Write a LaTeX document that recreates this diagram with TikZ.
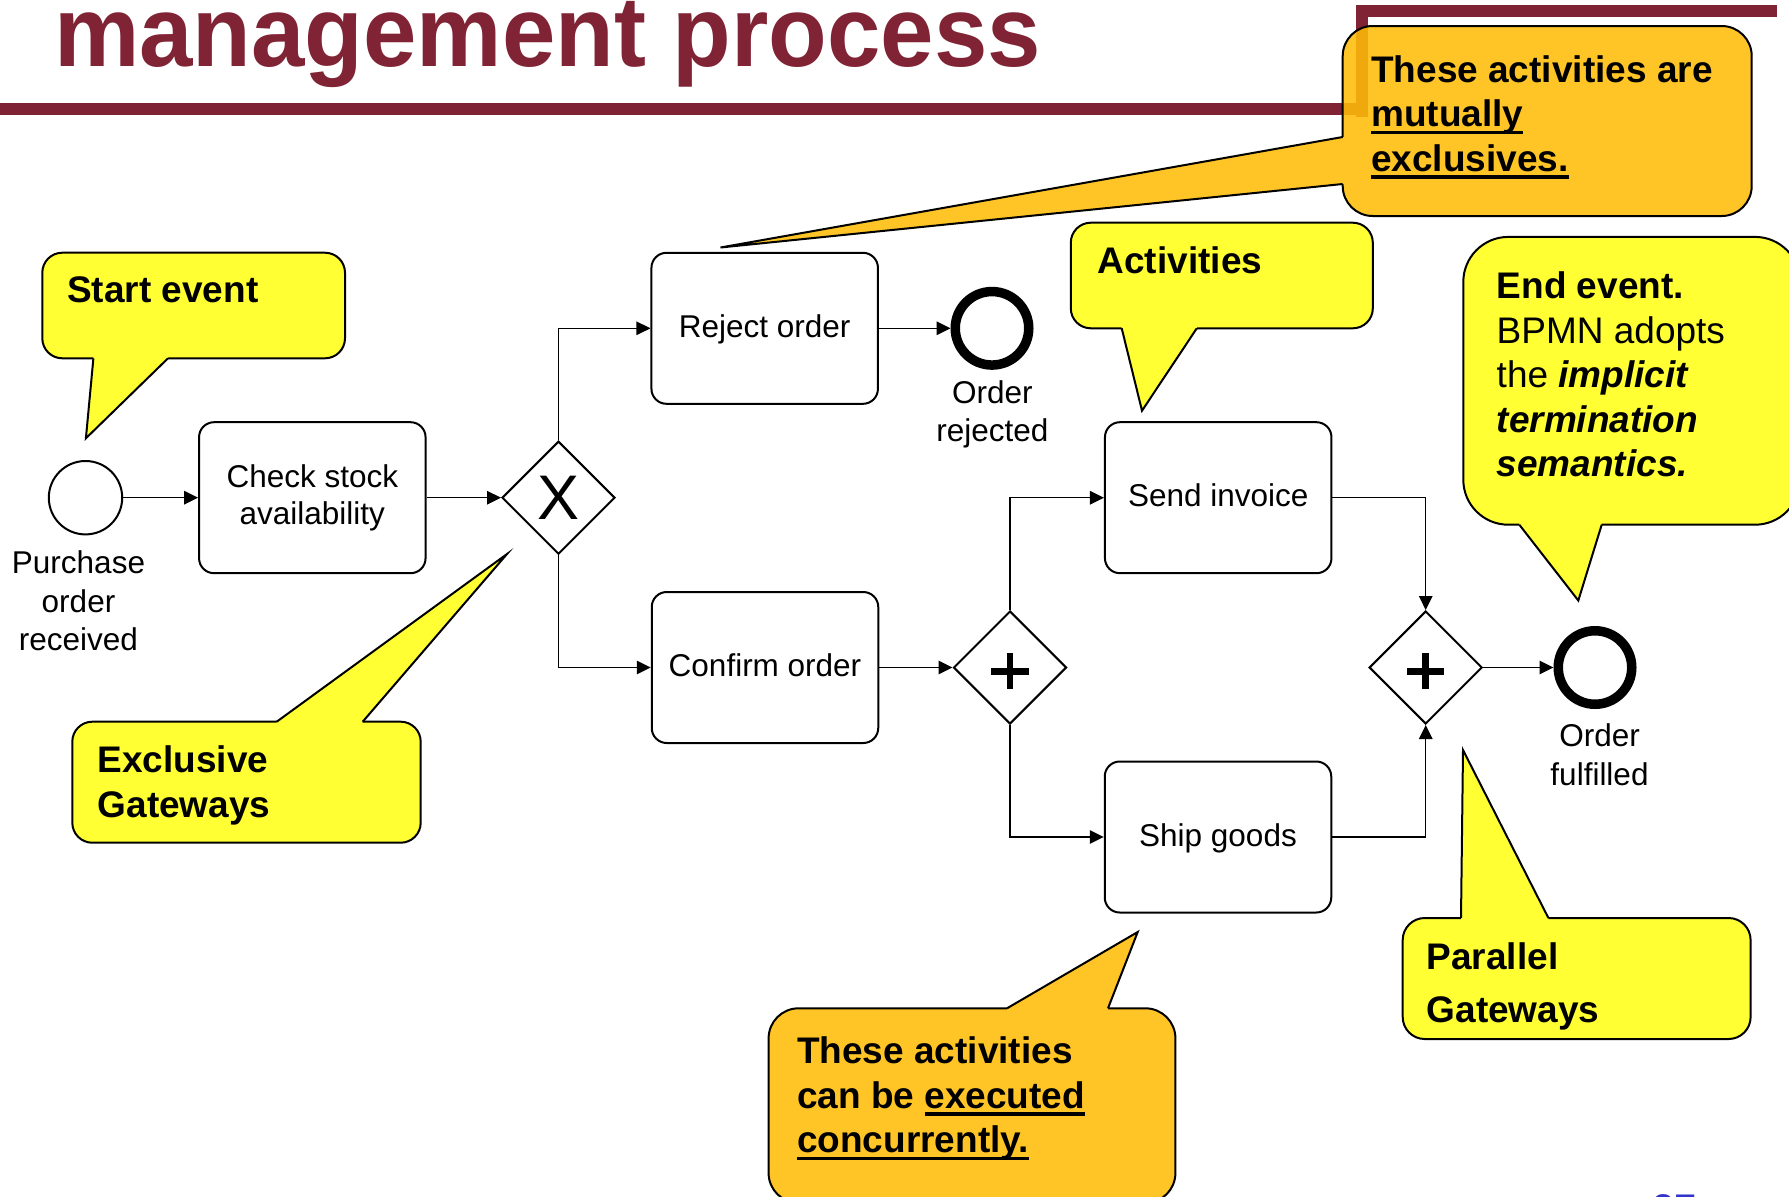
\documentclass[tikz,border=0pt]{standalone}
\usepackage{fontspec}
\setmainfont{Liberation Sans}
\usetikzlibrary{shapes.geometric,arrows.meta,calc}
\definecolor{maroon}{RGB}{128,35,52}
\definecolor{cyellow}{RGB}{255,255,51}
\definecolor{corange}{RGB}{255,196,37}
\definecolor{corangeT}{RGB}{255,188,7}
\definecolor{pnblue}{RGB}{51,51,204}
\newsavebox\ulbox
\newcommand\myul[1]{\sbox\ulbox{#1}\rlap{\rule[-7.6bp]{\wd\ulbox}{3.8bp}}\usebox\ulbox}
\tikzset{
  task/.style={draw, line width=2bp, rounded corners=15bp, minimum width=226.5bp, minimum height=151bp, inner sep=0pt, font=\fontsize{31.5bp}{37.5bp}\selectfont},
  taskone/.style={task, text height=24bp, text depth=6bp},
  gw/.style={draw, diamond, line width=2bp, minimum width=113bp, minimum height=113bp, inner sep=0pt},
  startev/.style={draw, circle, line width=2bp, minimum size=73.4bp, inner sep=0pt},
  endev/.style={draw, circle, line width=9.5bp, minimum size=73.5bp, inner sep=0pt},
  flow/.style={line width=1.4bp, -{Triangle[length=14bp,width=13.5bp]}},
  lbl/.style={font=\fontsize{31.5bp}{38.3bp}\selectfont, align=center, inner sep=0pt, anchor=north},
  ctext/.style={font=\bfseries\fontsize{37bp}{44.5bp}\selectfont, align=left, inner sep=0pt, anchor=north west},
  cbox/.style={draw, line width=2bp},
  cside/.style={line width=2bp},
  plusbar/.style={line width=6.5bp},
}
\begin{document}
\begin{tikzpicture}[x=1bp, y=-1bp]
\useasboundingbox (0,0) rectangle (1789,1196);

% title and frame
\node[anchor=base west, inner sep=0pt, text=maroon, font=\bfseries\fontsize{96bp}{96bp}\selectfont] (title) at (54,66.7) {\scalebox{1}[1.04]{management process}};
\fill[maroon] (0,102.7) rectangle (1368.3,115);
\fill[maroon] (1355.7,4.7) rectangle (1368.3,116.7);
\fill[maroon] (1355.7,4.7) rectangle (1777,17.3);

% callout: mutually exclusives (orange, top)
\draw[cbox, fill=corangeT, fill opacity=0.88, rounded corners=30bp] (1342.7,26) rectangle (1751.7,216);
\fill[corange] (1347,137) -- (1342.7,137) -- (720.5,247.5) -- (1342.7,184) -- (1347,184) -- cycle;
\draw[cside] (1342.7,137) -- (720.5,247.5) -- (1342.7,184);
\node[ctext] (cmutual) at (1371,55.2) {These activities are\\\myul{mutually}\\\myul{exclusives.}};

% callout: start event
\draw[cbox, fill=cyellow, rounded corners=20bp] (42.3,252.7) rectangle (345,358.3);
\fill[cyellow] (93.4,354) -- (93.4,358.3) -- (85.9,438.3) -- (168,358.3) -- (168,354) -- cycle;
\draw[cside] (93.4,358.3) -- (85.9,438.3) -- (168,358.3);
\node[ctext] (cstart) at (67,276.8) {Start event};

% callout: exclusive gateways
\draw[cbox, fill=cyellow, rounded corners=20bp] (72.3,721.7) rectangle (420.7,842.7);
\fill[cyellow] (276.7,726) -- (276.7,721.7) -- (507,554) -- (362.7,721.7) -- (362.7,726) -- cycle;
\draw[cside] (276.7,721.7) -- (507,554) -- (362.7,721.7);
\node[ctext] (cexcl) at (97.5,745.5) {Exclusive\\Gateways};

% callout: activities
\draw[cbox, fill=cyellow, rounded corners=20bp] (1070.8,222.7) rectangle (1372.8,328.3);
\fill[cyellow] (1121.7,324) -- (1121.7,328.3) -- (1142,410.7) -- (1196.8,328.3) -- (1196.8,324) -- cycle;
\draw[cside] (1121.7,328.3) -- (1142,410.7) -- (1196.8,328.3);
\node[ctext] (cact) at (1097.5,246.8) {Activities};

% callout: end event
\draw[cbox, fill=cyellow, rounded corners=45bp] (1463.3,236.9) rectangle (1800,524.7);
\fill[cyellow] (1519.3,520) -- (1519.3,524.7) -- (1578.3,600.5) -- (1601.7,524.7) -- (1601.7,520) -- cycle;
\draw[cside] (1519.3,524.7) -- (1578.3,600.5) -- (1601.7,524.7);
\node[ctext] (cend) at (1496.5,271.5) {End event.\\{\mdseries BPMN adopts}\\{\mdseries the} {\itshape implicit}\\{\itshape termination}\\{\itshape semantics.}};

% callout: parallel gateways
\draw[cbox, fill=cyellow, rounded corners=22bp] (1402.7,918) rectangle (1750.6,1039);
\fill[cyellow] (1461,922) -- (1461,918) -- (1463,750) -- (1548.4,918) -- (1548.4,922) -- cycle;
\draw[cside] (1461,918) -- (1463,750) -- (1548.4,918);
\node[ctext, font=\bfseries\fontsize{37bp}{53bp}\selectfont] (cpar) at (1426.5,942.8) {Parallel\\Gateways};

% callout: concurrently (orange, bottom)
\draw[cbox, fill=corange, rounded corners=30bp] (768.6,1008.3) rectangle (1175.4,1203);
\fill[corange] (1007,1012.5) -- (1007,1008.3) -- (1137.7,932) -- (1108,1008.3) -- (1108,1012.5) -- cycle;
\draw[cside] (1007,1008.3) -- (1137.7,932) -- (1108,1008.3);
\node[ctext] (cconc) at (797,1036.8) {These activities\\can be \myul{executed}\\\myul{concurrently.}};

% page number (cut off)
\node[anchor=base west, inner sep=0pt, text=pnblue, font=\fontsize{40bp}{40bp}\selectfont] (pagenum) at (1652,1222) {37};

% process
\node[startev] (start) at (85.5,497.7) {};
\node[lbl] (startlbl) at (78.5,550.7) {Purchase\\order\\received};
\node[task, align=center] (check) at (312.3,497.7) {Check stock\\availability};
\node[gw, font=\fontsize{63bp}{63bp}\selectfont] (xor) at (558.5,497.7) {X};
\node[taskone] (reject) at (764.7,328.3) {Reject order};
\node[endev] (endrej) at (992,328.3) {};
\node[lbl] (endrejlbl) at (992.3,380.4) {Order\\rejected};
\node[taskone] (confirm) at (765,667.5) {Confirm order};
\node[gw] (and1) at (1010,667.5) {};
\node[taskone] (send) at (1218.2,497.7) {Send invoice};
\node[taskone] (ship) at (1218,837) {Ship goods};
\node[gw] (and2) at (1425.7,667.5) {};
\node[endev] (endful) at (1595,667.5) {};
\node[lbl] (endfullbl) at (1599.5,723.7) {Order\\fulfilled};

\foreach \g in {and1,and2}{
  \draw[plusbar] ([xshift=-18.7bp,yshift=-3.8bp]\g.center) -- ([xshift=18.7bp,yshift=-3.8bp]\g.center);
  \draw[plusbar] ([yshift=14.2bp]\g.center) -- ([yshift=-21.8bp]\g.center);
}

\draw[flow] (start.east) -- (check.west);
\draw[flow] (check.east) -- (xor.west);
\draw[flow] (xor.north) |- (reject.west);
\draw[flow] (xor.south) |- (confirm.west);
\draw[flow] (reject.east) -- (endrej.west);
\draw[flow] (confirm.east) -- (and1.west);
\draw[flow] (and1.north) |- (send.west);
\draw[flow] (and1.south) |- (ship.west);
\draw[flow] (send.east) -| (and2.north);
\draw[flow] (ship.east) -| (and2.south);
\draw[flow] (and2.east) -- (endful.west);
\end{tikzpicture}
\end{document}
